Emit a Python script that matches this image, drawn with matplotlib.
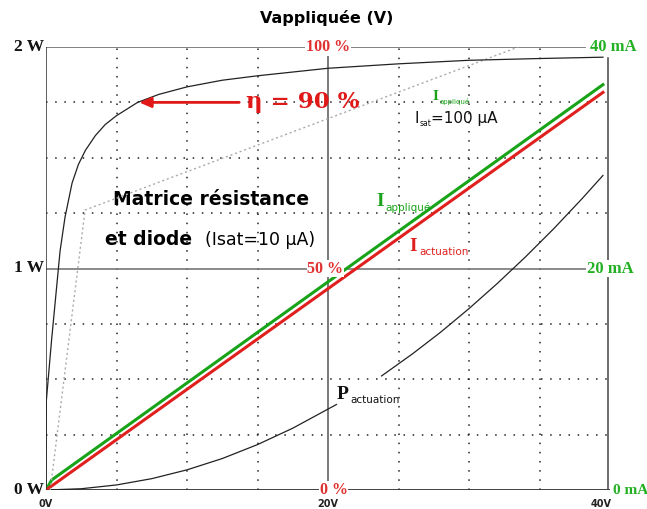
import numpy as np
import matplotlib
matplotlib.use("Agg")
import matplotlib.pyplot as plt
import matplotlib.transforms as mtransforms

# ---------------- data ----------------
volt_ticks = [0, 20, 40]
volt_labels = ["0V", "20V", "40V"]
power_ticks = [0, 1, 2]
power_labels = ["0 W", "1 W", "2 W"]
pct_ticks = [0, 50, 100]
pct_labels = ["0 %", "50 %", "100 %"]
ma_ticks = [0, 20, 40]
ma_labels = ["0 mA", "20 mA", "40 mA"]
v_grid = [5, 10, 15, 25, 30, 35]
w_grid = [0.25, 0.5, 0.75, 1.25, 1.5, 1.75]

# efficiency curve (Isat = 10 uA), percent
eta_V = [0, 0.02, 0.4, 0.78, 1.0, 1.35, 1.85, 2.3, 2.8, 3.5, 4.2, 5.0, 6.5, 8.0,
         10.0, 12.5, 15.0, 20.0, 25.0, 30.0, 35.0, 39.5]
eta_pct = [0, 20, 34, 46.7, 54, 61.6, 69.3, 73.5, 76.7, 80, 82.5, 84.5, 87.5, 89.3,
           91.0, 92.5, 93.5, 95.2, 96.2, 97.0, 97.4, 97.7]

# efficiency curve (Isat = 100 uA), percent, grey dotted
eta100_V = [0.3, 2.77, 33.5]
eta100_pct = [0, 63.2, 100]

# currents in mA
i_app_V = [0, 0.4, 39.5]
i_app_mA = [0, 0.9, 36.6]
i_act_V = [0, 39.5]
i_act_mA = [0, 35.9]

# actuation power in W (gap where the label sits)
p_V = [0, 2.5, 5, 7.5, 10, 12.5, 15, 17.5, 20.6, np.nan,
       23.8, 26, 28, 30, 32, 34, 36, 38, 39.5]
p_W = [0, 0.0057, 0.0228, 0.0512, 0.091, 0.142, 0.205, 0.279, 0.386, np.nan,
       0.515, 0.615, 0.713, 0.819, 0.932, 1.052, 1.179, 1.314, 1.420]

eta_marker_pct = 87.5
eta_text = "η = 90 %"

# ---------------- figure ----------------
W, H = 647, 509
fig = plt.figure(figsize=(W / 100, H / 100), dpi=100)
ax = fig.add_axes([46 / W, 1 - 490 / H, (610 - 46) / W, (490 - 47) / H])
ax.set_xlim(0, 40)
ax.set_ylim(0, 2)
ax.axis("off")
axI = ax.twinx()
axI.set_ylim(0, 40)
axI.axis("off")
axE = ax.twinx()
axE.set_ylim(0, 100)
axE.axis("off")

dot = (0, (1, 5))
gcol = "#222222"
for v in v_grid:
    ax.axvline(v, color=gcol, lw=1.1, ls=dot, zorder=1)
for w in w_grid:
    ax.axhline(w, color=gcol, lw=1.1, ls=dot, zorder=1)
# solid frame lines
ax.axvline(20, color="#555555", lw=1.1, zorder=1)
ax.axhline(1, color="#777777", lw=1.2, zorder=1)
ax.axhline(2, xmax=0.955, color="#777777", lw=1.3, zorder=1)
ax.axhline(0, color="#333333", lw=1.3, zorder=1)
ax.axvline(0, color="#333333", lw=1.1, zorder=1)
ax.axvline(39.85, ymax=0.975, color="#444444", lw=1.1, zorder=1)
ax.axvline(40.15, ymax=0.975, color="#444444", lw=1.1, zorder=1)

# curves
axE.plot(eta100_V, eta100_pct, color="#aaaaaa", lw=1.0, ls=(0, (1.5, 2)), zorder=2)
axE.plot(eta_V, eta_pct, color="#222222", lw=0.9, zorder=3)
ax.plot(p_V, p_W, color="#222222", lw=0.9, zorder=3)
axI.plot(i_app_V, i_app_mA, color="#19a319", lw=2.2, zorder=4)
axI.plot(i_act_V, i_act_mA, color="#e0201e", lw=2.2, zorder=4)

# arrow eta
axE.annotate("", xy=(6.4, eta_marker_pct), xytext=(13.9, eta_marker_pct),
             arrowprops=dict(arrowstyle="-|>,head_length=0.7,head_width=0.3",
                             color="#e01818", lw=2.0), zorder=5)
axE.text(14.2, eta_marker_pct, eta_text, color="#e01818", fontsize=16.5,
         fontweight="bold", family=["DejaVu Serif"], va="center", ha="left")

# axis labels
white = dict(facecolor="white", edgecolor="none", pad=0.5)
for t, lab in zip(power_ticks, power_labels):
    ax.text(-0.15, t, lab, ha="right", va="center", fontsize=12.5,
            fontweight="bold", family="Liberation Serif", color="#111111")
for t, lab in zip(volt_ticks, volt_labels):
    ax.text(t - (0.6 if t == 40 else 0), -0.062, lab, ha="center", va="center",
            fontsize=7, fontweight="bold", family="DejaVu Sans", color="#222222")
pct_dx = [0.4, -0.2, 0.0]
for t, lab, dx in zip(pct_ticks, pct_labels, pct_dx):
    axE.text(20 + dx, t, lab, ha="center", va="center", fontsize=11.5,
             fontweight="bold", family="Liberation Serif", color="#e03030",
             bbox=white, zorder=6)
ma_x = [40.2, 40.0, 40.2]
ma_ha = ["left", "center", "center"]
ma_fs = [11, 12, 12]
for t, lab, x, ha, fs in zip(ma_ticks, ma_labels, ma_x, ma_ha, ma_fs):
    axI.text(x, t, lab, ha=ha, va="center", fontsize=fs, fontweight="bold",
             family="Liberation Serif", color="#22b022", bbox=white, zorder=6,
             clip_on=False)

# title
fig.text(327 / W, 1 - 18 / H, "Vappliquée (V)", ha="center", va="center",
         fontsize=11.5, fontweight="bold", family="DejaVu Sans")

# matrice text
ax.text(11.7, 1.31, "Matrice résistance", ha="center", va="center",
        fontsize=13.5, fontweight="bold", family="DejaVu Sans", zorder=6)
ax.text(4.2, 1.13, "et diode", ha="left", va="center",
        fontsize=13.5, fontweight="bold", family="DejaVu Sans", zorder=6)
ax.text(11.3, 1.13, "(Isat=10 µA)", ha="left", va="center",
        fontsize=12.5, family="DejaVu Sans", zorder=6)


def sub_label(axx, x, y, main, sub, color, size, subsize, dx):
    axx.text(x, y, main, color=color, fontsize=size, family="Liberation Serif",
             fontweight="bold", ha="left", va="baseline", zorder=6)
    tr = mtransforms.offset_copy(axx.transData, fig=fig, x=dx, y=-size * 0.22,
                                 units="points")
    axx.text(x, y, sub, color=color, fontsize=subsize, family="DejaVu Sans",
             ha="left", va="baseline", transform=tr, zorder=6)


sub_label(ax, 23.4, 1.28, "I", "appliqué", "#19a319", 14, 7.5, 7)
sub_label(ax, 25.8, 1.08, "I", "actuation", "#e0201e", 14, 7.5, 7)
sub_label(ax, 20.6, 0.41, "P", "actuation", "#111111", 14, 7.5, 10)
sub_label(ax, 27.4, 1.76, "I", "appliqué", "#19a319", 11, 5, 5.5)
ax.text(26.1, 1.655, "I", color="#111111", fontsize=11, family="DejaVu Sans",
        ha="left", va="baseline", zorder=6)
tr_s = mtransforms.offset_copy(ax.transData, fig=fig, x=4, y=-2, units="points")
ax.text(26.1, 1.655, "sat", color="#111111", fontsize=5.5, family="DejaVu Sans",
        ha="left", va="baseline", transform=tr_s, zorder=6)
tr_r = mtransforms.offset_copy(ax.transData, fig=fig, x=12, y=0, units="points")
ax.text(26.1, 1.655, "=100 µA", color="#111111", fontsize=11, family="DejaVu Sans",
        ha="left", va="baseline", transform=tr_r, zorder=6)

fig.savefig("out.png", dpi=100)
